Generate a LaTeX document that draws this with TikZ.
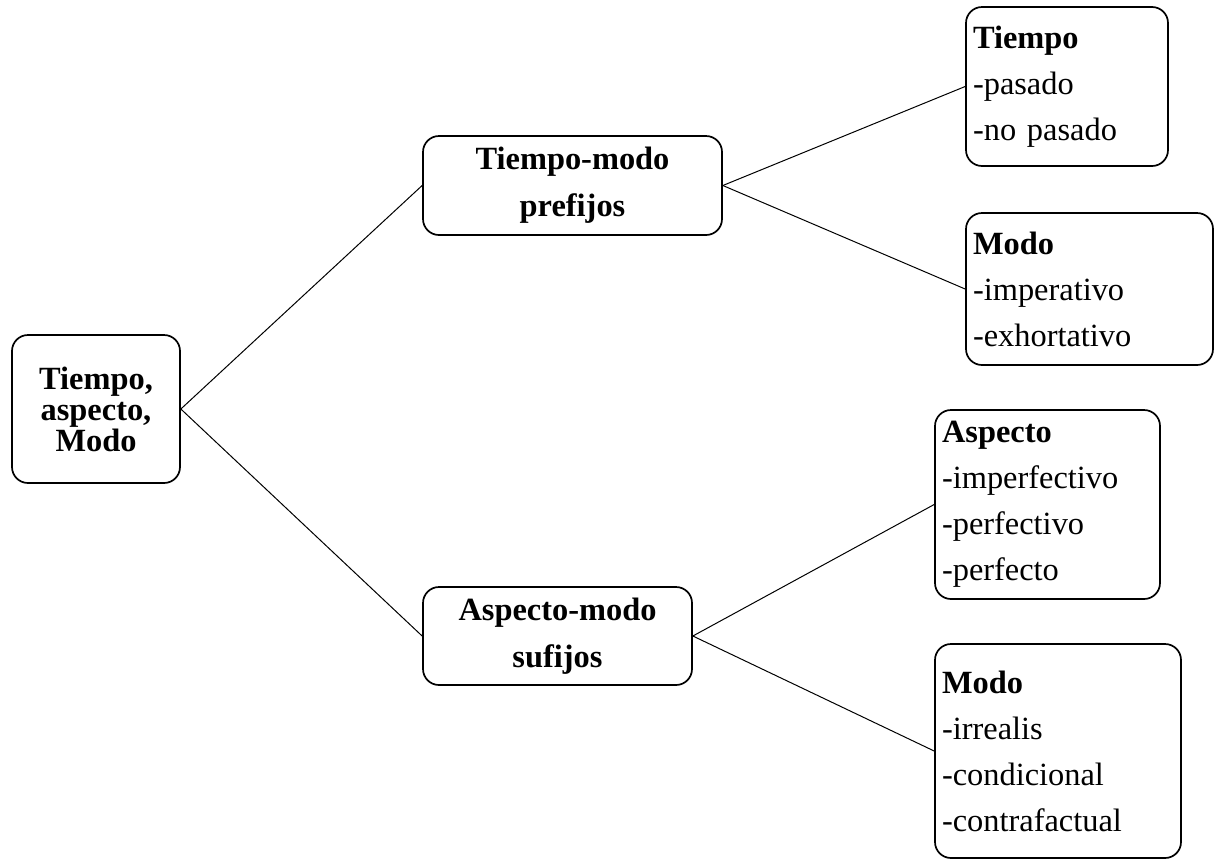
\documentclass[tikz,border=0pt]{standalone}
\usepackage{fontspec}
\setmainfont{Liberation Serif}
\begin{document}
\begin{tikzpicture}[x=1pt,y=-1pt,
  box/.style={draw,line width=1.7pt,rounded corners=16pt,inner ysep=0pt},
  centerbox/.style={box,align=center,font=\fontsize{32.4}{47}\selectfont\bfseries,inner xsep=0pt},
  listbox/.style={box,align=left,font=\fontsize{32.4}{46}\selectfont,inner xsep=7pt},
  link/.style={line width=1pt}]
\useasboundingbox (0,0) rectangle (1214,860);
\node[centerbox,font=\fontsize{32.4}{31}\selectfont\bfseries,minimum width=168pt,minimum height=148pt] (root) at (96,409) {Tiempo,\\aspecto,\\Modo};
\node[centerbox,minimum width=299pt,minimum height=99pt] (tm) at (572.5,185.5) {Tiempo-modo\\prefijos};
\node[centerbox,minimum width=269pt,minimum height=98pt] (am) at (557.5,636) {Aspecto-modo\\sufijos};
\node[listbox,text width=188pt,minimum height=159pt] (tiempo) at (1067,86.5) {\textbf{Tiempo}\\-pasado\\-no pasado};
\node[listbox,text width=233pt,minimum height=152pt] (modoa) at (1089.5,289) {\textbf{Modo}\\-imperativo\\-exhortativo};
\node[listbox,text width=211pt,minimum height=189pt] (aspecto) at (1047.5,504.5) {\textbf{Aspecto}\\-imperfectivo\\-perfectivo\\-perfecto};
\node[listbox,text width=232pt,minimum height=214pt] (modob) at (1058,751) {\textbf{Modo}\\-irrealis\\-condicional\\-contrafactual};
\draw[link] (root.east) -- (tm.west);
\draw[link] (root.east) -- (am.west);
\draw[link] (tm.east) -- (tiempo.west);
\draw[link] (tm.east) -- (modoa.west);
\draw[link] (am.east) -- (aspecto.west);
\draw[link] (am.east) -- (modob.west);
\end{tikzpicture}
\end{document}
